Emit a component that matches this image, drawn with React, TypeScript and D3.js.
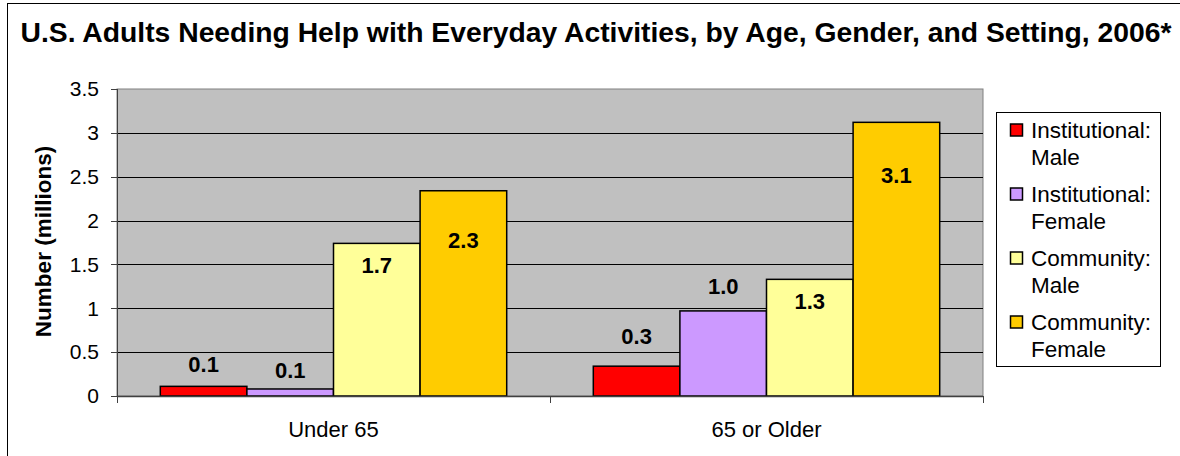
import React from 'react';
import * as d3 from 'd3';

// chart data
const categories = ['Under 65', '65 or Older'];
const seriesNames = [
  ['Institutional:', 'Male'],
  ['Institutional:', 'Female'],
  ['Community:', 'Male'],
  ['Community:', 'Female'],
];
const institutionalMale = [0.11, 0.34];
const institutionalFemale = [0.08, 0.97];
const communityMale = [1.74, 1.33];
const communityFemale = [2.34, 3.12];
const valueLabels = [
  ['0.1', '0.3'],
  ['0.1', '1.0'],
  ['1.7', '1.3'],
  ['2.3', '3.1'],
];
const yTicks = [0, 0.5, 1, 1.5, 2, 2.5, 3, 3.5];

const colors = ['#ff0000', '#cc99ff', '#ffff99', '#ffcc00'];
// label offsets from bar top (px), labels were placed by hand in the original
const labelDy = [
  [-22, -30],
  [-19, -25],
  [22, 22],
  [50, 53],
];

const W = 1180;
const H = 456;
const FONT = '"Liberation Sans", Arial, sans-serif';

export default function App() {
  const series = [institutionalMale, institutionalFemale, communityMale, communityFemale];
  const plot = { left: 117, top: 89, right: 983, bottom: 396 };

  const x0 = d3.scaleBand<string>()
    .domain(categories)
    .range([plot.left, plot.right])
    .paddingInner(0)
    .paddingOuter(0);

  // group occupies 4 bar widths, one bar width of gap split both sides
  const x1 = d3.scaleBand<number>()
    .domain(d3.range(series.length))
    .range([0, x0.bandwidth()])
    .paddingOuter(0.5)
    .paddingInner(0);

  const y = d3.scaleLinear().domain([0, 3.5]).range([plot.bottom, plot.top]);

  return (
    <svg width={W} height={H} style={{ position: 'absolute', left: 0, top: 0, background: '#fff' }}
      fontFamily={FONT}>
      {/* outer frame */}
      <rect x={7.5} y={3.5} width={W + 20} height={H + 20} fill="#fff" stroke="#000" strokeWidth={1} />

      <text x={596} y={42} textAnchor="middle" fontSize={28.3} fontWeight="bold" fill="#000">
        U.S. Adults Needing Help with Everyday Activities, by Age, Gender, and Setting, 2006*
      </text>

      {/* plot area */}
      <rect x={plot.left} y={plot.top} width={plot.right - plot.left} height={plot.bottom - plot.top}
        fill="#c0c0c0" stroke="#808080" strokeWidth={1} />

      {yTicks.filter(t => t > 0 && t < 3.5).map(t => (
        <line key={t} x1={plot.left} x2={plot.right} y1={Math.round(y(t)) + 0.5} y2={Math.round(y(t)) + 0.5}
          stroke="#000" strokeWidth={1} />
      ))}

      {/* y axis */}
      <line x1={plot.left + 0.5} x2={plot.left + 0.5} y1={plot.top} y2={plot.bottom + 6} stroke="#404040" />
      {yTicks.map(t => (
        <g key={t}>
          <line x1={plot.left - 6} x2={plot.left} y1={Math.round(y(t)) + 0.5} y2={Math.round(y(t)) + 0.5} stroke="#404040" />
          <text x={99} y={y(t)} dy="0.35em" textAnchor="end" fontSize={21} fill="#000">{t}</text>
        </g>
      ))}
      <text transform={`translate(51,${(plot.top + plot.bottom) / 2 - 1}) rotate(-90)`} textAnchor="middle"
        fontSize={22.5} fontWeight="bold" fill="#000">Number (millions)</text>

      {/* bars */}
      {series.map((vals, si) =>
        vals.map((v, ci) => {
          const bx = x0(categories[ci])! + x1(si)!;
          const by = y(v);
          return (
            <g key={`${si}-${ci}`}>
              <rect x={bx} y={by} width={x1.bandwidth()} height={plot.bottom - by}
                fill={colors[si]} stroke="#000" strokeWidth={1.5} />
              <text x={bx + x1.bandwidth() / 2} y={by + labelDy[si][ci]} dy="0.35em" textAnchor="middle"
                fontSize={22} fontWeight="bold" fill="#000">{valueLabels[si][ci]}</text>
            </g>
          );
        })
      )}

      {/* x axis */}
      <line x1={plot.left} x2={plot.right} y1={plot.bottom + 0.5} y2={plot.bottom + 0.5} stroke="#404040" strokeWidth={1.5} />
      {[plot.left, x0(categories[1])!, plot.right].map((tx, i) => (
        <line key={i} x1={Math.round(tx) + 0.5} x2={Math.round(tx) + 0.5} y1={plot.bottom} y2={plot.bottom + 7} stroke="#404040" />
      ))}
      {categories.map(c => (
        <text key={c} x={x0(c)! + x0.bandwidth() / 2} y={437} textAnchor="middle" fontSize={22} fill="#000">{c}</text>
      ))}

      {/* legend */}
      <rect x={996.5} y={112.5} width={164} height={254} fill="#fff" stroke="#000" strokeWidth={1} />
      {seriesNames.map((lines, i) => {
        const ly = 130 + i * 64;
        return (
          <g key={i}>
            <rect x={1010.5} y={ly - 6} width={12} height={12} fill={colors[i]} stroke="#000" strokeWidth={1.5} />
            {lines.map((ln, j) => (
              <text key={j} x={1031} y={ly + j * 27} dy="0.35em" fontSize={22.5} fill="#000">{ln}</text>
            ))}
          </g>
        );
      })}
    </svg>
  );
}
